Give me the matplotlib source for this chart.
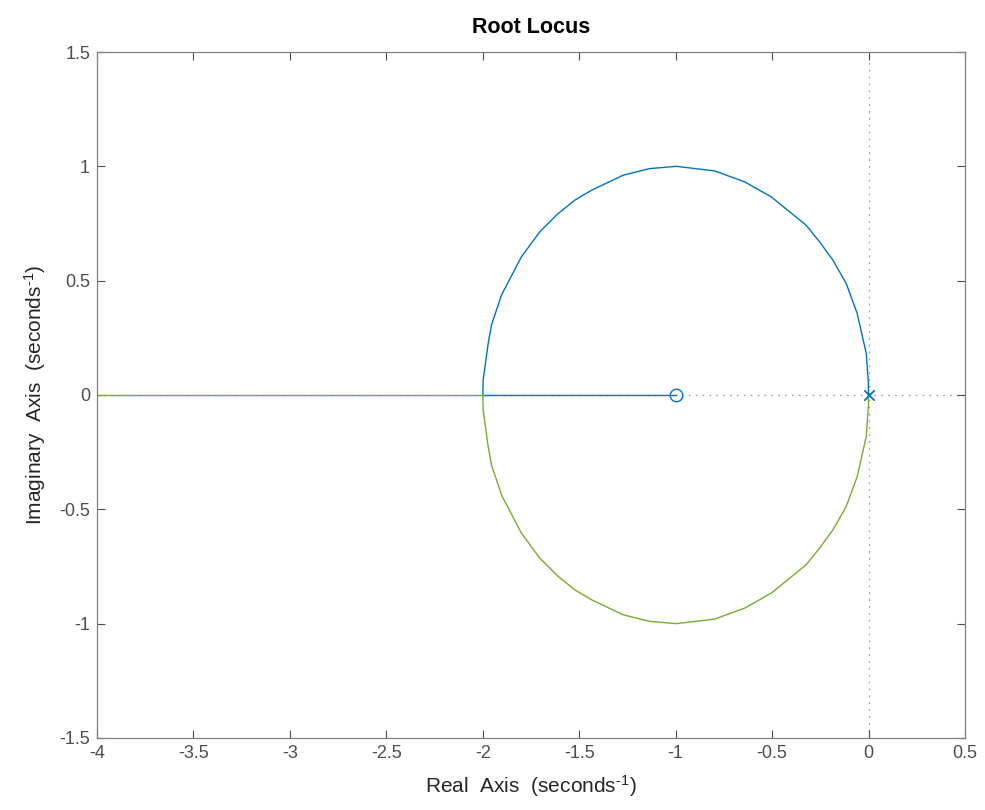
import matplotlib
matplotlib.use("Agg")
import matplotlib.pyplot as plt
import numpy as np

# locus vertices (upper branch, from pole at 0 to breakaway at -2)
upper_re = [0.0, -0.001, -0.012, -0.059, -0.116, -0.185, -0.254, -0.323, -0.409, -0.504,
            -0.642, -0.798, -0.997, -1.135, -1.273, -1.437, -1.523, -1.610, -1.705,
            -1.800, -1.903, -1.955, -1.972, -1.998, -2.0]
upper_im = [0.0, 0.051, 0.182, 0.357, 0.488, 0.590, 0.670, 0.742, 0.801, 0.866,
            0.932, 0.980, 1.000, 0.990, 0.961, 0.895, 0.852, 0.793, 0.713,
            0.604, 0.437, 0.306, 0.226, 0.066, 0.0]
# real-axis parts after breakaway
blue_axis_re = [-2.0, -1.0]      # ends at the zero
green_axis_re = [-2.0, -10.0]    # goes off to -infinity
poles = [0.0, 0.0]
zeros = [-1.0]

xticks = [-4, -3.5, -3, -2.5, -2, -1.5, -1, -0.5, 0, 0.5]
yticks = [-1.5, -1, -0.5, 0, 0.5, 1, 1.5]

plt.rcParams['font.family'] = ['Liberation Sans', 'DejaVu Sans']
plt.rcParams['mathtext.fontset'] = 'custom'
plt.rcParams['mathtext.rm'] = 'Liberation Sans'
plt.rcParams['mathtext.it'] = 'Liberation Sans'
plt.rcParams['axes.unicode_minus'] = False

blue = '#0072BD'
green = '#77AC30'
gray = '#4D4D4D'

fig = plt.figure(figsize=(9.85, 8.1), dpi=100)
ax = fig.add_axes([0.0985, 0.0889, 0.8812, 0.8469])

ax.axhline(0, color='#A0A0A0', linestyle=(0, (1.5, 4)), linewidth=0.9, zorder=1)
ax.axvline(0, color='#A0A0A0', linestyle=(0, (1.5, 4)), linewidth=0.9, zorder=1)

ax.plot(upper_re, upper_im, color=blue, linewidth=1.0, zorder=3)
ax.plot(upper_re, [-v for v in upper_im], color=green, linewidth=1.0, zorder=3)
ax.plot(blue_axis_re, [0, 0], color=blue, linewidth=1.0, zorder=3)
ax.plot(green_axis_re, [0, 0], color=green, linewidth=1.0, zorder=3)
ax.plot(poles, [0, 0], 'x', color=blue, markersize=7, markeredgewidth=1.0, zorder=4)
ax.plot(zeros, [0], 'o', color=blue, markerfacecolor='none', markersize=9,
        markeredgewidth=1.0, zorder=4)

ax.set_xlim(-4, 0.5)
ax.set_ylim(-1.5, 1.5)
ax.set_xticks(xticks)
ax.set_yticks(yticks)
ax.set_xticklabels(['%g' % t for t in xticks])
ax.set_yticklabels(['%g' % t for t in yticks])
ax.tick_params(direction='in', top=True, right=True, length=6, width=0.8,
               colors=gray, labelsize=13, pad=5)
for s in ax.spines.values():
    s.set_color('#808080')
    s.set_linewidth(0.9)

sup = r'$^{\text{-1}}$'
ax.set_xlabel('Real  Axis  (seconds' + sup + ')', fontsize=15, color='#262626', labelpad=8)
ax.set_ylabel('Imaginary  Axis  (seconds' + sup + ')', fontsize=15, color='#262626', labelpad=8)
ax.set_title('Root Locus', fontsize=15.5, fontweight='bold', color='#000000', pad=14)

fig.savefig('out.png', dpi=100)
